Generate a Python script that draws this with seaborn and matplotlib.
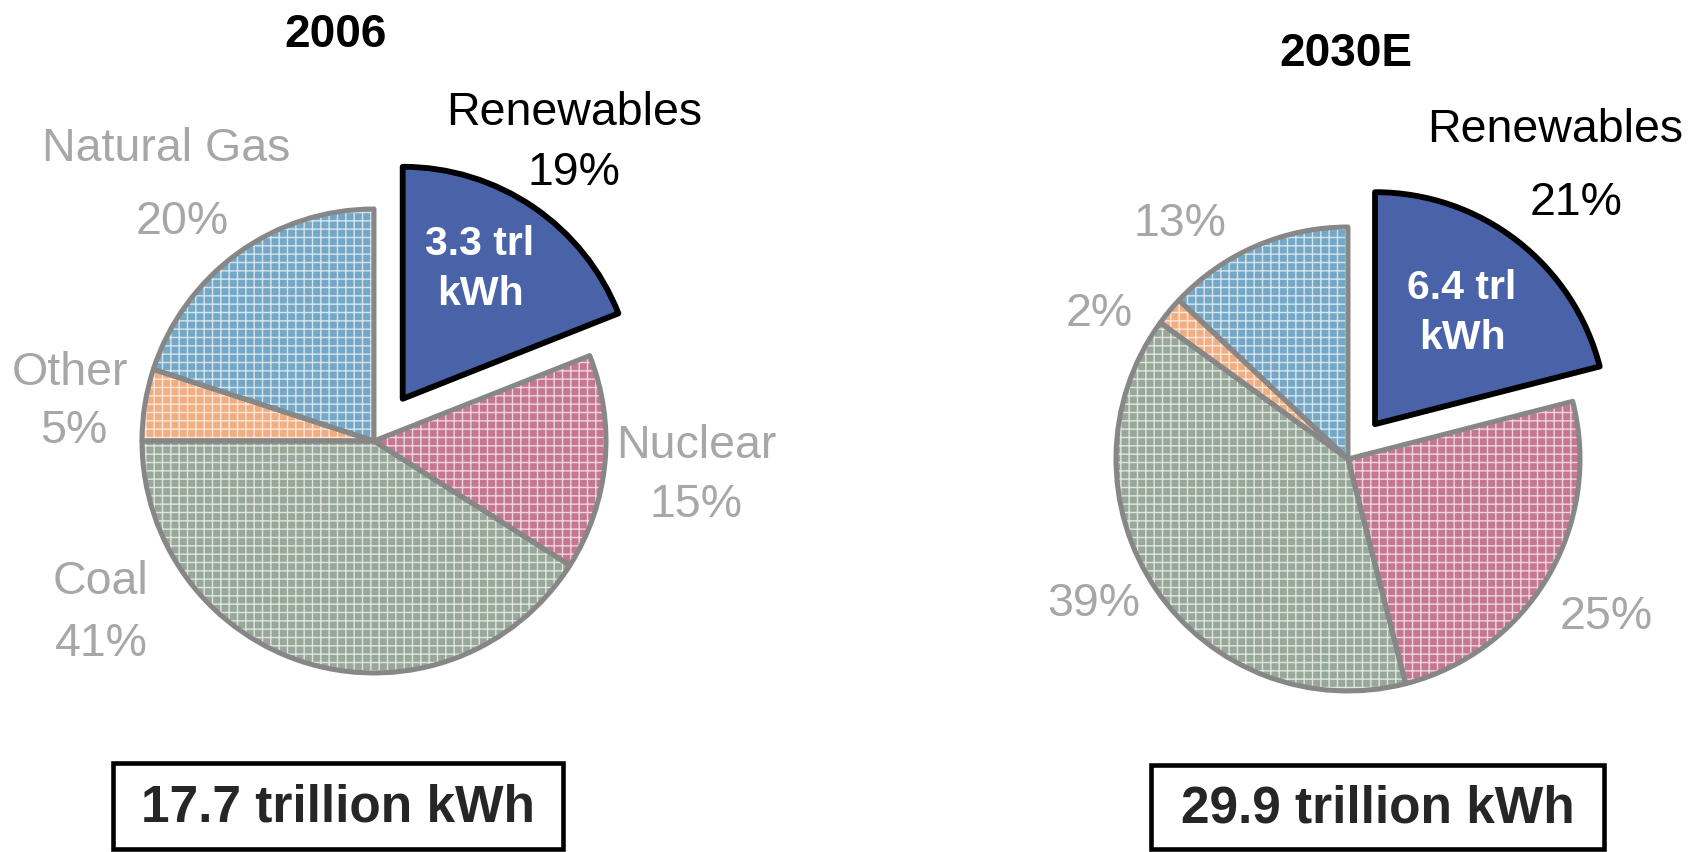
"""Electricity generation mix, 2006 vs 2030E: two exploded pies with boxed totals."""

import matplotlib
matplotlib.use('Agg')
import matplotlib.pyplot as plt
from matplotlib.patches import Rectangle
import seaborn as sns

sns.set_theme(style='white')
plt.rcParams['font.family'] = ['Liberation Sans', 'DejaVu Sans']
plt.rcParams['hatch.linewidth'] = 1.0

W, H, DPI = 1698, 853, 100
RADIUS = 232

# data
SOURCES = ['Renewables', 'Nuclear', 'Coal', 'Other', 'Natural Gas']
SHARE_2006 = [19, 15, 41, 5, 20]
SHARE_2030 = [21, 25, 39, 2, 13]
TOTAL_2006 = 17.7
TOTAL_2030 = 29.9
RENEW_2006 = 3.3
RENEW_2030 = 6.4

COLORS = ['#4a62a8', '#c47790', '#97a898', '#f0ae82', '#75a8c6']
GREY_TXT = '#a7a7aa'
EDGE = '#878787'


def txt(ax, x, y, s, size, color='black', bold=False):
    # x, y are image pixels of the cap-height centre
    px = size * DPI / 72
    ax.text(x, H - y - 0.36 * px, s, fontsize=size, color=color,
            fontweight='bold' if bold else 'normal', ha='center', va='baseline', zorder=8)


def draw_pie(ax, shares, center, explode_frac):
    cx, cy = center
    kw = dict(center=(cx, H - cy), radius=RADIUS, startangle=90, counterclock=False,
              explode=[explode_frac * RADIUS] + [0] * (len(shares) - 1))
    ax.pie(shares, colors=COLORS, wedgeprops=dict(linewidth=0), **kw)
    hatch, _ = ax.pie(shares, wedgeprops=dict(facecolor='none', edgecolor=(1, 1, 1, 0.7),
                                              linewidth=0, hatch='++'), **kw)
    hatch[0].set_hatch(None)
    edges, _ = ax.pie(shares, wedgeprops=dict(facecolor='none', edgecolor=EDGE,
                                              linewidth=3.6, joinstyle='round'), **kw)
    edges[0].set_edgecolor('black')
    edges[0].set_linewidth(4.2)
    edges[0].set_zorder(5)


def total_box(ax, x0, y0, x1, y1, total):
    ax.add_patch(Rectangle((x0, H - y1), x1 - x0, y1 - y0, facecolor='white',
                           edgecolor='black', linewidth=3.3, zorder=6))
    ax.text((x0 + x1) / 2, H - (y0 + y1) / 2 - 1, f'{total} trillion kWh', fontsize=37,
            fontweight='bold', ha='center', va='center', zorder=7)


fig = plt.figure(figsize=(W / DPI, H / DPI), dpi=DPI)
ax = fig.add_axes([0, 0, 1, 1])

# 2006
draw_pie(ax, SHARE_2006, (374, 442), 0.22)
txt(ax, 336, 30, '2006', 33, bold=True)
txt(ax, 574, 108, SOURCES[0], 33.5)
txt(ax, 574, 168, f'{SHARE_2006[0]}%', 33.5)
txt(ax, 166, 144, SOURCES[4], 33.5, GREY_TXT)
txt(ax, 182, 217, f'{SHARE_2006[4]}%', 33.5, GREY_TXT)
txt(ax, 70, 368, SOURCES[3], 33.5, GREY_TXT)
txt(ax, 74, 426, f'{SHARE_2006[3]}%', 33.5, GREY_TXT)
txt(ax, 696, 441, SOURCES[1], 33.5, GREY_TXT)
txt(ax, 696, 500, f'{SHARE_2006[1]}%', 33.5, GREY_TXT)
txt(ax, 101, 577, SOURCES[2], 33.5, GREY_TXT)
txt(ax, 101, 639, f'{SHARE_2006[2]}%', 33.5, GREY_TXT)
txt(ax, 480, 240, f'{RENEW_2006} trl', 29.5, 'white', bold=True)
txt(ax, 480, 290, 'kWh', 29.5, 'white', bold=True)
total_box(ax, 113, 764, 563, 850, TOTAL_2006)

# 2030E
draw_pie(ax, SHARE_2030, (1348, 460), 0.19)
txt(ax, 1346, 49, '2030E', 33, bold=True)
txt(ax, 1555, 125, SOURCES[0], 33.5)
txt(ax, 1576, 198, f'{SHARE_2030[0]}%', 33.5)
txt(ax, 1180, 219, f'{SHARE_2030[4]}%', 33.5, GREY_TXT)
txt(ax, 1099, 309, f'{SHARE_2030[3]}%', 33.5, GREY_TXT)
txt(ax, 1094, 599, f'{SHARE_2030[2]}%', 33.5, GREY_TXT)
txt(ax, 1606, 612, f'{SHARE_2030[1]}%', 33.5, GREY_TXT)
txt(ax, 1462, 284, f'{RENEW_2030} trl', 29.5, 'white', bold=True)
txt(ax, 1462, 334, 'kWh', 29.5, 'white', bold=True)
total_box(ax, 1151, 766, 1604, 850, TOTAL_2030)

ax.set_xlim(0, W)
ax.set_ylim(0, H)
ax.set_aspect('auto')
ax.axis('off')

fig.savefig('out.png', dpi=DPI)
